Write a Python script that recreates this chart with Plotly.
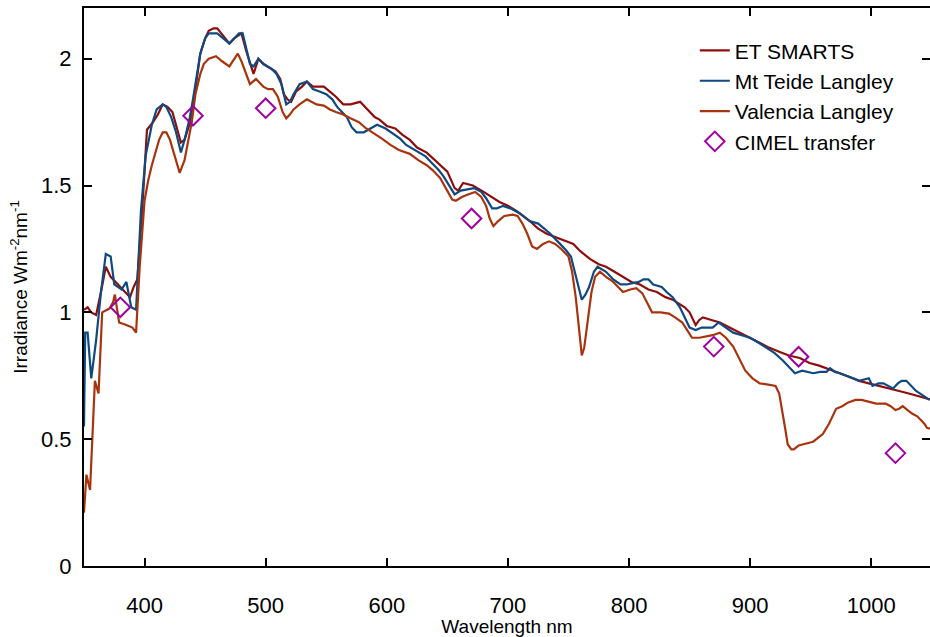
import plotly.graph_objects as go

# ---------------- data ----------------
et_wl = [350, 353, 356, 360, 364, 368, 372, 376, 380, 384, 388, 391, 394, 398, 402, 407, 411, 415, 419, 423,
         427, 430, 433, 437, 440, 443, 446, 450, 453, 457, 460, 465, 470, 474, 477, 480, 484, 488, 490, 494,
         498, 501, 505, 508, 512, 515, 518, 521, 525, 530, 534, 539, 544, 548, 553, 558, 564, 570, 578, 584,
         590, 594, 600, 607, 613, 619, 625, 633, 642, 650, 656, 659, 663, 671, 680, 686, 693, 700, 707, 718,
         725, 732, 743, 754, 760, 768, 775, 781, 788, 795, 802, 809, 816, 823, 830, 836, 842, 846, 850, 855,
         858, 861, 868, 875, 883, 891, 899, 908, 916, 924, 932, 941, 949, 957, 966, 974, 982, 990, 998, 1007,
         1015, 1023, 1031, 1038, 1045, 1050]
et_val = [1.01, 1.02, 1.00, 0.99, 1.08, 1.18, 1.14, 1.12, 1.10, 1.08, 1.06, 1.10, 1.13, 1.40, 1.72, 1.75, 1.78, 1.82, 1.81, 1.79,
          1.72, 1.67, 1.68, 1.74, 1.81, 1.92, 2.02, 2.08, 2.11, 2.12, 2.12, 2.09, 2.06, 2.08, 2.09, 2.10, 2.03, 1.97, 1.94, 2.00,
          1.98, 1.97, 1.96, 1.95, 1.92, 1.86, 1.84, 1.83, 1.87, 1.89, 1.91, 1.89, 1.89, 1.89, 1.87, 1.85, 1.82, 1.82, 1.83, 1.80,
          1.77, 1.76, 1.735, 1.725, 1.70, 1.68, 1.65, 1.63, 1.59, 1.555, 1.49, 1.48, 1.51, 1.50, 1.475, 1.455, 1.435, 1.42, 1.40, 1.36,
          1.33, 1.31, 1.29, 1.27, 1.24, 1.21, 1.19, 1.18, 1.16, 1.14, 1.12, 1.11, 1.09, 1.08, 1.06, 1.05, 1.03, 1.02, 1.00, 0.95,
          0.97, 0.98, 0.97, 0.96, 0.94, 0.92, 0.90, 0.88, 0.86, 0.845, 0.83, 0.82, 0.80, 0.79, 0.775, 0.76, 0.745, 0.73, 0.72, 0.71,
          0.70, 0.69, 0.68, 0.67, 0.66, 0.655]

teide_wl = [350, 351, 353, 356, 360, 364, 368, 372, 375, 378, 381, 385, 389, 393, 397, 401, 406, 410, 415, 418,
            422, 426, 430, 433, 437, 440, 443, 446, 450, 453, 457, 460, 465, 470, 474, 478, 481, 484, 487, 490,
            494, 498, 501, 505, 509, 513, 517, 520, 523, 528, 534, 539, 545, 550, 555, 559, 563, 567, 571, 575,
            581, 586, 592, 599, 605, 611, 616, 623, 632, 637, 643, 647, 651, 656, 661, 666, 672, 678, 682, 687,
            691, 696, 702, 710, 718, 725, 730, 735, 743, 748, 752, 755, 758, 761, 764, 767, 771, 774, 781, 787,
            793, 798, 803, 808, 812, 816, 820, 827, 831, 836, 842, 846, 850, 855, 860, 864, 869, 874, 880, 886,
            893, 900, 907, 913, 920, 927, 932, 937, 943, 947, 952, 958, 963, 966, 970, 974, 980, 985, 990, 995,
            998, 1001, 1006, 1010, 1014, 1018, 1022, 1025, 1029, 1033, 1037, 1042, 1048]
teide_val = [0.55, 0.92, 0.92, 0.74, 0.89, 1.08, 1.23, 1.22, 1.11, 1.10, 1.09, 1.12, 1.02, 1.01, 1.40, 1.62, 1.74, 1.80, 1.82, 1.81,
             1.77, 1.71, 1.63, 1.68, 1.76, 1.84, 1.94, 2.02, 2.08, 2.10, 2.10, 2.10, 2.08, 2.06, 2.08, 2.10, 2.10, 2.04, 1.98, 1.97,
             2.00, 1.98, 1.97, 1.96, 1.94, 1.90, 1.82, 1.83, 1.86, 1.90, 1.91, 1.88, 1.87, 1.86, 1.84, 1.81, 1.79, 1.77, 1.73, 1.71,
             1.71, 1.725, 1.74, 1.725, 1.705, 1.685, 1.66, 1.64, 1.615, 1.59, 1.56, 1.535, 1.505, 1.465, 1.48, 1.485, 1.49, 1.475, 1.45, 1.41,
             1.41, 1.42, 1.41, 1.39, 1.36, 1.35, 1.33, 1.31, 1.27, 1.245, 1.22, 1.16, 1.10, 1.05, 1.07, 1.10, 1.16, 1.18, 1.16, 1.13,
             1.11, 1.11, 1.115, 1.12, 1.13, 1.13, 1.11, 1.10, 1.08, 1.06, 1.02, 0.98, 0.94, 0.93, 0.94, 0.94, 0.94, 0.96, 0.94, 0.92,
             0.91, 0.90, 0.88, 0.86, 0.84, 0.81, 0.785, 0.76, 0.77, 0.765, 0.76, 0.765, 0.765, 0.78, 0.765, 0.76, 0.75, 0.74, 0.73, 0.735,
             0.74, 0.71, 0.72, 0.72, 0.71, 0.70, 0.72, 0.73, 0.73, 0.71, 0.69, 0.675, 0.655]

val_wl = [350, 352, 355, 358, 359, 362, 365, 371, 374, 375.5, 379, 385, 390, 393, 396, 400, 403, 406, 409, 412,
          415, 418, 421, 425, 429, 433, 436, 439, 442, 446, 449, 453, 459, 464, 470, 474, 477, 480, 484, 487,
          492, 498, 502, 506, 510, 514, 517, 520, 523, 528, 534, 538, 542, 548, 553, 558, 564, 570, 577, 583,
          590, 596, 603, 610, 619, 626, 633, 638, 644, 650, 654, 657, 662, 667, 673, 678, 682, 685, 688, 692,
          697, 704, 708, 712, 716, 720, 724, 729, 734, 739, 744, 750, 753, 756, 759, 761, 763, 766, 769, 772,
          776, 781, 787, 791, 795, 801, 806, 811, 815, 819, 826, 833, 838, 844, 848, 852, 858, 864, 869, 875,
          880, 886, 891, 896, 902, 908, 915, 921, 924, 926, 929, 931, 934, 936, 940, 944, 948, 952, 956, 960,
          965, 969, 971, 976, 981, 987, 992, 996, 1000, 1004, 1008, 1012, 1016, 1020, 1023, 1026, 1030, 1034, 1038, 1041,
          1044, 1046, 1050]
val_val = [0.21, 0.36, 0.30, 0.62, 0.73, 0.68, 1.00, 1.015, 1.04, 1.07, 0.96, 0.95, 0.94, 0.92, 1.18, 1.44, 1.52, 1.58, 1.63, 1.68,
           1.71, 1.71, 1.68, 1.61, 1.55, 1.60, 1.68, 1.75, 1.86, 1.94, 1.98, 2.00, 2.01, 1.99, 1.97, 2.00, 2.02, 1.99, 1.94, 1.90,
           1.92, 1.89, 1.88, 1.88, 1.85, 1.79, 1.765, 1.78, 1.80, 1.82, 1.84, 1.83, 1.82, 1.815, 1.80, 1.79, 1.78, 1.765, 1.75, 1.725,
           1.705, 1.685, 1.66, 1.64, 1.625, 1.60, 1.58, 1.56, 1.53, 1.48, 1.445, 1.44, 1.455, 1.465, 1.475, 1.455, 1.42, 1.37, 1.34, 1.36,
           1.38, 1.385, 1.38, 1.35, 1.31, 1.26, 1.25, 1.27, 1.28, 1.27, 1.25, 1.22, 1.16, 1.06, 0.92, 0.83, 0.86, 0.98, 1.08, 1.14,
           1.16, 1.14, 1.12, 1.10, 1.08, 1.09, 1.095, 1.075, 1.04, 1.00, 1.00, 0.995, 0.98, 0.96, 0.93, 0.90, 0.90, 0.905, 0.91, 0.92,
           0.90, 0.865, 0.82, 0.77, 0.74, 0.72, 0.715, 0.71, 0.68, 0.63, 0.54, 0.48, 0.46, 0.46, 0.475, 0.48, 0.485, 0.49, 0.505, 0.52,
           0.56, 0.60, 0.62, 0.63, 0.645, 0.655, 0.655, 0.65, 0.645, 0.64, 0.64, 0.64, 0.63, 0.615, 0.62, 0.63, 0.615, 0.60, 0.59, 0.575,
           0.56, 0.545, 0.54]

cimel_wl = [380, 440, 500, 670, 870, 940, 1020]
cimel_val = [1.02, 1.775, 1.805, 1.37, 0.865, 0.825, 0.445]

x_ticks = [400, 500, 600, 700, 800, 900, 1000]
y_ticks = [0, 0.5, 1, 1.5, 2]
y_ticktext = ["0", "0.5", "1", "1.5", "2"]

# ---------------- figure ----------------
FONT = "Liberation Sans, Arial, Helvetica, sans-serif"

fig = go.Figure()
fig.add_trace(go.Scatter(x=et_wl, y=et_val, mode="lines", name="ET SMARTS",
                         line=dict(color="#8E0E0E", width=2.2)))
fig.add_trace(go.Scatter(x=teide_wl, y=teide_val, mode="lines", name="Mt Teide Langley",
                         line=dict(color="#0E4A80", width=2.2)))
fig.add_trace(go.Scatter(x=val_wl, y=val_val, mode="lines", name="Valencia Langley",
                         line=dict(color="#A8340E", width=2.2)))
fig.add_trace(go.Scatter(x=cimel_wl, y=cimel_val, mode="markers", name="CIMEL transfer",
                         marker=dict(symbol="diamond-open", size=15, color="#A000A0",
                                     line=dict(width=2, color="#A000A0"))))

axis_common = dict(showline=True, linecolor="black", linewidth=2, mirror="ticks",
                   ticks="inside", ticklen=8, tickwidth=2, tickcolor="black",
                   showgrid=False, zeroline=False, automargin=False,
                   tickfont=dict(family=FONT, size=22, color="black"))

fig.update_xaxes(range=[350, 1048.5], tickvals=x_ticks, ticklabelstandoff=19,
                 title=dict(text="Wavelength nm", font=dict(family=FONT, size=19, color="black"),
                            standoff=0),
                 **axis_common)
fig.update_yaxes(range=[0, 2.2], tickvals=y_ticks, ticktext=y_ticktext, ticklabelstandoff=6,
                 title=dict(text="Irradiance Wm<sup>-2</sup>nm<sup>-1</sup>",
                            font=dict(family=FONT, size=19, color="black"), standoff=8),
                 **axis_common)

fig.update_layout(
    width=930, height=637,
    margin=dict(l=84, r=0, t=8, b=71),
    paper_bgcolor="white", plot_bgcolor="white",
    font=dict(family=FONT, color="black"),
    legend=dict(x=0.722, y=0.96, xanchor="left", yanchor="top",
                bgcolor="rgba(0,0,0,0)", borderwidth=0,
                font=dict(family=FONT, size=21, color="black"),
                tracegroupgap=0, itemwidth=30),
    showlegend=True,
)

fig.write_html("out.html", config={"displayModeBar": False},
               post_script="document.body.style.margin='0px';document.body.style.overflow='hidden';")
